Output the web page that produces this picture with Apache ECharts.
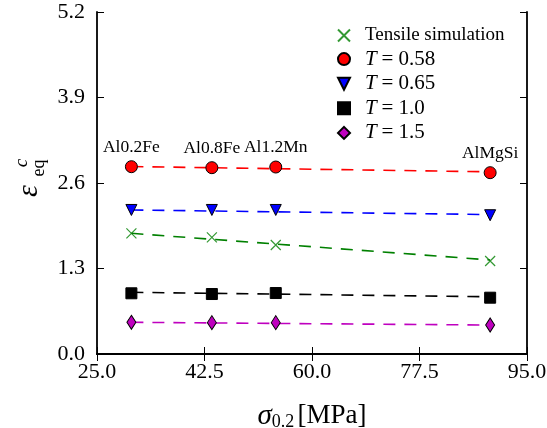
<!DOCTYPE html>
<html><head><meta charset="utf-8">
<script src="https://cdn.jsdelivr.net/npm/echarts@6/dist/echarts.min.js"></script>
<style>html,body{margin:0;padding:0;background:#fff}#c{width:547px;height:428px}</style>
</head><body><div id="c"></div>
<script>
var alloys = ['Al0.2Fe', 'Al0.8Fe', 'Al1.2Mn', 'AlMgSi'];
var sigma02 = [30.6, 43.7, 54.1, 89.0];
var tensile = [1.835, 1.774, 1.657, 1.414];
var T058 = [2.848, 2.833, 2.843, 2.757];
var T065 = [2.19, 2.19, 2.19, 2.11];
var T10 = [0.923, 0.912, 0.927, 0.856];
var T15 = [0.482, 0.477, 0.477, 0.441];
// fitted dashed lines: value at first and last alloy
var fitX = [30.6, 89.0];
var fitTensile = [1.835, 1.43];
var fitT058 = [2.85, 2.77];
var fitT065 = [2.19, 2.12];
var fitT10 = [0.938, 0.87];
var fitT15 = [0.482, 0.44];
var xTicks = [25.0, 42.5, 60.0, 77.5, 95.0];
var yTicks = [0.0, 1.3, 2.6, 3.9, 5.2];

var SERIF = 'Liberation Serif';
function pairs(xs, ys){ return xs.map(function(x,i){return [x, ys[i]];}); }

var chart = echarts.init(document.getElementById('c'), null, {renderer:'canvas'});
function scat(name, ys, symbol, size, color, extra){
  var s = {
    name: name, type: 'scatter', data: pairs(sigma02, ys), symbol: symbol, symbolSize: size,
    itemStyle: {color: color, borderColor: '#000', borderWidth: 1, opacity: 1}, z: 5,
    emphasis: {disabled: true}
  };
  for (var k in extra) s[k] = extra[k];
  return s;
}
function fit(ys, color){
  return {type:'line', data: pairs(fitX, ys), showSymbol:false, symbol:'none', silent:true,
    lineStyle:{color: color, width: 1.6, type: [12, 9]}, z: 3};
}
var axisLine = {show:true, lineStyle:{color:'#000', width:1.8}};
var tick = {show:true, inside:true, length:7, lineStyle:{color:'#000', width:1}};
var option = {
  animation: false,
  grid: {left: 97, right: 20, top: 12, bottom: 74, outerBoundsMode: 'none', containLabel: false},
  xAxis: [{
    type: 'value', min: 25, max: 95, interval: 17.5,
    axisLine: axisLine, splitLine: {show:false}, axisTick: tick,
    axisLabel: {color:'#000', fontFamily: SERIF, fontSize: 22, margin: 7,
      formatter: function(v){ return v.toFixed(1); }},
    name: '{s|σ}{sub|0.2} {n|[MPa]}', nameLocation: 'middle', nameGap: 47,
    nameTextStyle: {rich: {
      s: {fontFamily: SERIF, fontStyle:'italic', fontSize: 29, color:'#000'},
      sub: {fontFamily: SERIF, fontSize: 18, color:'#000', padding:[12,0,0,0]},
      n: {fontFamily: SERIF, fontSize: 27, color:'#000'}
    }}
  }, {
    type: 'value', position: 'top', min: 25, max: 95, interval: 17.5,
    axisLine: axisLine, splitLine: {show:false}, axisLabel: {show:false}, axisTick: tick
  }],
  yAxis: [{
    type: 'value', min: 0, max: 5.2, interval: 1.3,
    axisLine: axisLine, splitLine: {show:false}, axisTick: tick,
    axisLabel: {color:'#000', fontFamily: SERIF, fontSize: 22, margin: 12,
      formatter: function(v){ return v.toFixed(1); }}
  }, {
    type: 'value', position: 'right', min: 0, max: 5.2, interval: 1.3,
    axisLine: axisLine, splitLine: {show:false}, axisLabel: {show:false}, axisTick: tick
  }],
  legend: {
    orient: 'vertical', left: 332, top: 21, itemWidth: 12, itemHeight: 12, itemGap: 3.6,
    data: [
      {name: 'Tensile simulation'},
      {name: 'T = 0.58'},
      {name: 'T = 0.65', icon: 'path://M0,0L10,0L5,10Z'},
      {name: 'T = 1.0'},
      {name: 'T = 1.5'}
    ],
    textStyle: {fontFamily: SERIF, fontSize: 19, color:'#000', padding:[0,0,0,10],
      rich: {i: {fontFamily: SERIF, fontStyle:'italic', fontSize: 21, color:'#000'},
             n: {fontFamily: SERIF, fontSize: 21, color:'#000'}}},
    formatter: function(name){
      if (name.indexOf('T = ') === 0) return '{i|T} {n|= ' + name.slice(4) + '}';
      return name;
    }
  },
  series: [
    fit(fitT058, '#ff0000'), fit(fitT065, '#0000ff'), fit(fitTensile, '#008000'),
    fit(fitT10, '#000000'), fit(fitT15, '#bf00bf'),
    scat('Tensile simulation', tensile, 'path://M0,0L10,10M10,0L0,10', 10, '#008000',
      {itemStyle: {color: 'rgba(0,0,0,0)', borderColor: '#008000', borderWidth: 1.2}}),
    scat('T = 0.58', T058, 'circle', 12, '#ff0000', {
      label: {show: true, position: 'top', distance: 4, color:'#000', fontFamily: SERIF, fontSize: 17.5,
        formatter: function(p){ return alloys[p.dataIndex]; }}}),
    scat('T = 0.65', T065, 'triangle', 11, '#0000ff', {symbolRotate: 180}),
    scat('T = 1.0', T10, 'rect', 11, '#000000'),
    scat('T = 1.5', T15, 'diamond', [9, 14], '#bf00bf')
  ],
  graphic: [
    {type:'text', x: 29, y: 191, rotation: Math.PI/2,
      style:{text:'ε', font:'italic 30px "Liberation Serif"', fill:'#000', align:'center', verticalAlign:'middle'}},
    {type:'text', x: 39, y: 168, rotation: Math.PI/2,
      style:{text:'eq', font:'18px "Liberation Serif"', fill:'#000', align:'center', verticalAlign:'middle'}},
    {type:'text', x: 22, y: 163, rotation: Math.PI/2,
      style:{text:'c', font:'italic 19px "Liberation Serif"', fill:'#000', align:'center', verticalAlign:'middle'}}
  ]
};
chart.setOption(option);
</script></body></html>
